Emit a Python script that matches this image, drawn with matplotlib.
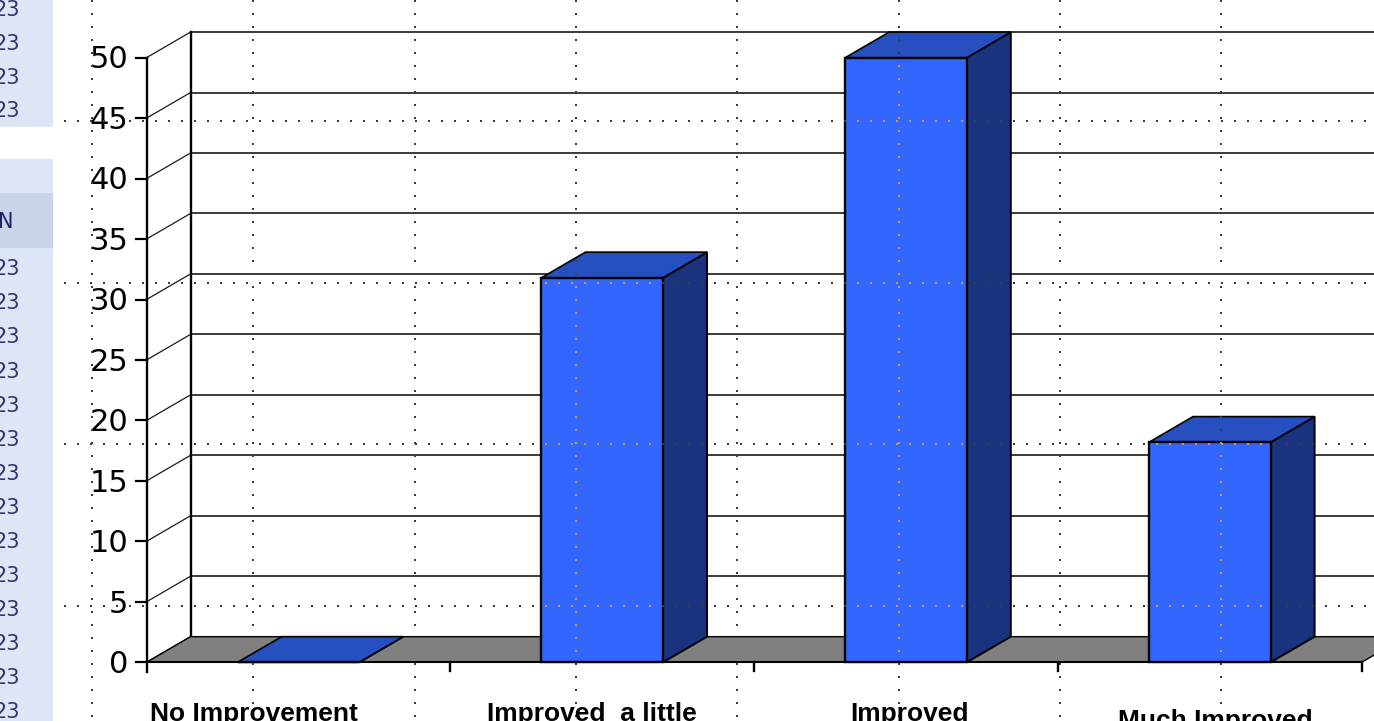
import numpy as np
import matplotlib
matplotlib.use("Agg")
import matplotlib.pyplot as plt
from matplotlib.patches import Polygon, Rectangle
from matplotlib.path import Path
from matplotlib.transforms import offset_copy

# survey answers, share of respondents (%)
CATEGORIES = ["No Improvement", "Improved  a little", "Improved", "Much Improved"]
PERCENT = [0.0, 31.8, 50.0, 18.2]
Y_TICKS = [0, 5, 10, 15, 20, 25, 30, 35, 40, 45, 50]
SHEET_CELL = "23"
SHEET_HEADER = "N"

# canvas / layout in pixels
W, H = 1374, 721
AXIS_PX = 146.5          # front value axis
CAT_PX = 303.8           # width of one category slot
ZERO_PX = 662.3          # value 0 on the front face
UNIT_PX = 12.092         # pixels per percentage point

# 3-D depth, in data units
DX = 0.145
DY = 2.12
BAR_LO, BAR_HI = 0.30, 0.70

FRONT = "#3366ff"
TOP = "#2650c0"
SIDE = "#1a337f"
FLOOR = "#808080"

fig = plt.figure(figsize=(W / 100, H / 100), dpi=100)
fig.patch.set_facecolor("white")

ax = fig.add_axes([0, 0, 1, 1])
ax.set_xlim(-AXIS_PX / CAT_PX, (W - AXIS_PX) / CAT_PX)
ax.set_ylim(-(H - ZERO_PX) / UNIT_PX, ZERO_PX / UNIT_PX)
ax.axis("off")

# pixel-space layer for the worksheet behind the chart
sheet = fig.add_axes([0, 0, 1, 1], zorder=5)
sheet.set_xlim(0, W)
sheet.set_ylim(H, 0)
sheet.axis("off")
sheet.patch.set_alpha(0)

n = len(CATEGORIES)
top_val = Y_TICKS[-1]
x_right = ax.get_xlim()[1] + 0.1

# back wall gridlines and the slanted links to the front axis
for v in Y_TICKS:
    ax.plot([DX, x_right], [v + DY, v + DY], color="#1a1a1a", lw=1.2, zorder=1)
    ax.plot([0, DX], [v, v + DY], color="#1a1a1a", lw=0.9, zorder=1)
    ax.plot([-11 / CAT_PX, 0], [v, v], color="black", lw=1.6, zorder=6)
ax.plot([DX, DX], [DY, top_val + DY], color="black", lw=1.7, zorder=1)

# floor
floor_xy = [(0, 0), (n, 0), (n + DX, DY), (DX, DY)]
floor = Polygon(floor_xy, closed=True, facecolor=FLOOR,
                edgecolor="black", lw=1.0, zorder=2)
ax.add_patch(floor)
ax.plot([0, n], [0, 0], color="black", lw=1.5, zorder=2.5)

# bars: front, top and side faces
fronts = []
for i, v in enumerate(PERCENT):
    x0, x1 = i + BAR_LO, i + BAR_HI
    side = Polygon([(x1, 0), (x1 + DX, DY), (x1 + DX, v + DY), (x1, v)],
                   closed=True, facecolor=SIDE, edgecolor="black", lw=1.4, zorder=3)
    top = Polygon([(x0, v), (x1, v), (x1 + DX, v + DY), (x0 + DX, v + DY)],
                  closed=True, facecolor=TOP, edgecolor="black", lw=1.2, zorder=3)
    front = Rectangle((x0, 0), x1 - x0, v, facecolor=FRONT,
                      edgecolor="black", lw=1.7, zorder=3.5)
    ax.add_patch(side)
    ax.add_patch(top)
    ax.add_patch(front)
    fronts.append(Path([(x0, 0), (x1, 0), (x1, v), (x0, v)]))

# front axis and category ticks
ax.plot([0, 0], [-0.78, top_val], color="black", lw=1.7, zorder=6)
for k in range(1, n + 1):
    ax.plot([k, k], [0, -0.75], color="black", lw=1.7, zorder=6)

# value tick labels
tick_tr = offset_copy(ax.transData, fig=fig, x=-18.5, y=-10.8, units="dots")
for v in Y_TICKS:
    ax.text(0, v, str(v), transform=tick_tr, ha="right", va="baseline",
            fontsize=22, family="DejaVu Sans", color="black", zorder=6)

# category labels (run into the bottom edge)
LABEL_LEFT = [150, 487, 850, 1118]
LABEL_BASE = [721, 721, 721, 728]
for name, xl, yb in zip(CATEGORIES, LABEL_LEFT, LABEL_BASE):
    sheet.text(xl, yb, name, ha="left", va="baseline", fontsize=19,
               fontweight="bold", family="Liberation Sans", color="black")

# worksheet column on the left
sheet.add_patch(Rectangle((0, 0), 53, 127, facecolor="#dce6f4", lw=0))
sheet.add_patch(Rectangle((0, 159), 53, H - 159, facecolor="#dce6f4", lw=0))
sheet.add_patch(Rectangle((0, 193), 53, 55, facecolor="#c9d5e6", lw=0))
for yc in list(9.3 + 33.6 * np.arange(4)) + list(268 + 34.1 * np.arange(14)):
    sheet.text(20, yc + 7.2, SHEET_CELL, ha="right", va="baseline",
               fontsize=15, family="DejaVu Sans", color="#34346e")
sheet.text(13, 220 + 7.5, SHEET_HEADER, ha="right", va="baseline",
           fontsize=15, family="DejaVu Sans", color="#1f2466")

# dotted worksheet gridlines showing through the chart
dots = []
for xv in 92 + 161.3 * np.arange(8):
    yy = np.arange(1, H, 13.0)
    dots.append(np.column_stack([np.full_like(yy, xv), yy]))
for yh in 121 + 161.7 * np.arange(4):
    xx = np.arange(65, W, 13.0)
    dots.append(np.column_stack([xx, np.full_like(xx, yh)]))
dots = np.vstack(dots)

to_data = ax.transData.inverted()
dots_data = to_data.transform(sheet.transData.transform(dots))
hidden = Path(floor_xy).contains_points(dots_data, radius=0.01)
on_front = np.zeros(len(dots), dtype=bool)
for p in fronts:
    on_front |= p.contains_points(dots_data, radius=-0.003)
hidden &= ~on_front

plain = ~hidden & ~on_front
sheet.scatter(dots[plain, 0], dots[plain, 1], s=1.6, marker="s",
              color="#3c3c3c", linewidths=0)
sheet.scatter(dots[on_front, 0], dots[on_front, 1], s=1.6, marker="s",
              color="#c89a50", linewidths=0)

fig.savefig("out.png", dpi=100)
